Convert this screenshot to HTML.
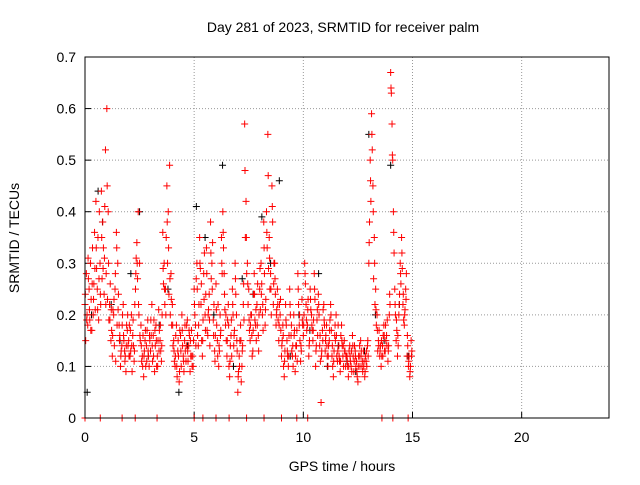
<!DOCTYPE html>
<html><head><meta charset="utf-8"><style>
body{margin:0;background:#fff;}
svg text{font-family:"Liberation Sans",sans-serif;font-size:14px;fill:#000;}
</style></head><body>
<svg id="chart" width="640" height="480">
<text x="343" y="32" text-anchor="middle">Day 281 of 2023, SRMTID for receiver palm</text>
<text x="342" y="471" text-anchor="middle">GPS time / hours</text>
<text transform="translate(19,238) rotate(-90)" text-anchor="middle">SRMTID / TECUs</text>
<g id="grid"></g><g id="ticks"></g><g id="marks"></g>
<rect x="85" y="57" width="524" height="361" fill="none" stroke="#000" stroke-width="1"/>
</svg>
<script>
const xTicks=[0,5,10,15,20];
const yTicks=[0,0.1,0.2,0.3,0.4,0.5,0.6,0.7];
const yTickLabels=["0","0.1","0.2","0.3","0.4","0.5","0.6","0.7"];
const redRows=[
[.22,.28,.18,.25,.30,.17,.20,.36,.42,.25,.19,.30,.44,.38,.24,.52],
[.60,.40,.22,.15,.12,.20,.25,.36,.30,.18,.10,.14,.22,.13,.09,.17],
[.15,.12,.20,.16,.11,.25,.34,.40,.30,.18,.12,.08,.15,.14,.19,.10],
[.13,.22,.16,.09,.18,.12,.21,.15,.11,.36,.30,.25,.45,.40,.49,.28],
[.22,.15,.10,.18,.13,.07,.16,.20,.12,.15,.11,.19,.14,.09,.17,.12],
[.25,.18,.30,.14,.35,.22,.12,.28,.20,.33,.16,.24,.38,.30,.19,.13],
[.26,.15,.10,.20,.35,.40,.28,.18,.12,.22,.08,.16,.25,.14,.30,.20],
[.05,.12,.18,.10,.22,.57,.42,.30,.25,.15,.20,.13,.28,.18,.22,.16],
[.25,.30,.20,.38,.18,.40,.55,.35,.28,.45,.22,.30,.18,.25,.15,.20],
[.12,.18,.08,.22,.15,.10,.25,.16,.12,.20,.09,.14,.28,.18,.11,.23],
[.16,.30,.22,.18,.12,.25,.20,.15,.28,.10,.19,.24,.14,.03,.17,.22],
[.13,.18,.10,.15,.22,.12,.08,.16,.20,.11,.14,.09,.18,.12,.15,.10],
[.12,.08,.14,.10,.16,.09,.13,.11,.07,.12,.15,.10,.13,.08,.11,.14],
[.30,.50,.59,.45,.35,.25,.20,.15,.12,.10,.14,.18,.13,.16,.11,.20],
[.67,.57,.40,.25,.15,.12,.20,.30,.35,.22,.18,.25,.12,.10,.08,.15]];
const redRows2=[
[.15,.20,.27,.19,.23,.33,.26,.21,.29,.35,.40,.22,.27,.33,.41,.28],
[.23,.19,.26,.17,.21,.14,.11,.18,.24,.16,.13,.20,.15,.12,.18,.14],
[.18,.13,.09,.14,.22,.31,.27,.20,.15,.11,.16,.13,.10,.17,.12,.15],
[.16,.11,.19,.14,.10,.15,.17,.13,.20,.26,.22,.35,.30,.24,.20,.18],
[.14,.11,.16,.08,.12,.17,.10,.14,.09,.13,.18,.11,.16,.12,.10,.15],
[.20,.27,.16,.22,.29,.15,.19,.32,.24,.17,.21,.14,.27,.34,.22,.16],
[.18,.22,.13,.17,.28,.33,.21,.15,.19,.10,.14,.12,.20,.17,.24,.13],
[.09,.15,.07,.14,.19,.35,.28,.22,.17,.20,.12,.24,.19,.15,.26,.20],
[.21,.26,.17,.28,.23,.33,.29,.25,.20,.38,.30,.24,.21,.19,.22,.17],
[.15,.10,.13,.18,.12,.16,.20,.13,.10,.17,.14,.11,.22,.15,.13,.18],
[.20,.26,.17,.23,.15,.21,.17,.19,.23,.14,.16,.20,.11,.13,.21,.18],
[.16,.12,.14,.19,.17,.10,.13,.15,.12,.18,.11,.16,.14,.10,.13,.12],
[.10,.13,.11,.09,.12,.14,.10,.08,.12,.10,.13,.09,.11,.12,.10,.12],
[.38,.42,.52,.27,.22,.18,.13,.17,.14,.12,.16,.13,.15,.19,.14,.22],
[.63,.50,.32,.20,.17,.14,.24,.26,.29,.19,.21,.28,.14,.12,.10,.13]];
const redRows3=[
[.24,.19,.31,.21,.17,.26,.23,.29,.33,.21,.27,.24,.35,.29,.31,.22],
[.45,.30,.19,.21,.16,.23,.28,.33,.21,.15,.12,.18,.16,.11,.14,.20],
[.12,.17,.14,.19,.13,.28,.30,.22,.16,.14,.10,.12,.17,.11,.13,.16],
[.19,.14,.12,.17,.15,.10,.13,.18,.14,.29,.25,.20,.38,.33,.27,.23],
[.18,.13,.12,.10,.15,.09,.13,.17,.11,.18,.14,.13,.17,.15,.12,.10],
[.22,.14,.25,.18,.30,.26,.15,.23,.17,.28,.20,.19,.32,.25,.16,.11],
[.21,.12,.14,.16,.30,.36,.24,.20,.15,.18,.11,.19,.22,.16,.27,.15],
[.08,.10,.15,.13,.26,.48,.35,.26,.19,.18,.16,.17,.24,.21,.18,.13],
[.29,.24,.22,.33,.21,.36,.47,.31,.25,.41,.26,.27,.20,.22,.18,.23],
[.14,.16,.11,.19,.13,.12,.22,.18,.14,.16,.12,.17,.25,.20,.14,.19],
[.18,.28,.19,.21,.14,.23,.18,.17,.25,.13,.21,.22,.16,.12,.15,.19],
[.15,.14,.12,.17,.20,.14,.11,.18,.16,.13,.12,.11,.15,.14,.13,.12],
[.11,.10,.12,.13,.14,.11,.12,.09,.10,.14,.12,.11,.10,.09,.13,.15],
[.34,.46,.55,.40,.30,.21,.17,.14,.13,.15,.12,.16,.18,.14,.13,.24],
[.64,.51,.36,.22,.19,.16,.22,.28,.32,.24,.20,.23,.16,.11,.09,.12]];
const zeroT=[0,0.7,1.7,2.3,3.3,5.0,5.4,6.0,6.6,7.4,8.2,9.0,9.7,10.2,13.6,14.1,14.8];
const blackT=[0.1,0.3,0.6,0.8,1.2,1.6,2.1,2.5,2.9,3.4,3.8,4.3,4.7,5.1,5.5,5.9,6.3,6.8,7.2,7.7,8.1,8.5,8.9,9.4,9.8,10.3,10.7,11.1,11.6,12.0,12.4,12.8,13.0,13.3,13.7,14.0,14.4,14.8];
const blackV=[0.05,0.20,0.44,0.38,0.22,0.15,0.28,0.40,0.12,0.18,0.25,0.05,0.14,0.41,0.35,0.20,0.49,0.10,0.27,0.24,0.39,0.30,0.46,0.12,0.20,0.17,0.28,0.10,0.14,0.11,0.09,0.13,0.55,0.20,0.15,0.49,0.22,0.12];
const X=t=>85+t*(524/24), Y=v=>418-v*(361/0.7);
const NS="http://www.w3.org/2000/svg";
const grid=document.getElementById('grid'),ticks=document.getElementById('ticks'),marks=document.getElementById('marks');
function mk(tag,at,parent){const e=document.createElementNS(NS,tag);for(const k in at)e.setAttribute(k,at[k]);parent.appendChild(e);return e;}
xTicks.forEach(t=>{const x=X(t);
 const g=mk('line',{x1:x,x2:x,y1:57,y2:418,stroke:'#999','stroke-dasharray':'1,2'},grid);
 
 
 mk('line',{x1:x,x2:x,y1:418,y2:412,stroke:'#000'},ticks);
 const l=mk('text',{x:x,y:442,'text-anchor':'middle'},ticks);l.textContent=t;
 
 });
yTicks.forEach((v,i)=>{const y=Y(v);
 const g=mk('line',{x1:85,x2:609,y1:y,y2:y,stroke:'#999','stroke-dasharray':'1,2'},grid);
 
 
 mk('line',{x1:85,x2:91,y1:y,y2:y,stroke:'#000'},ticks);
 const l=mk('text',{x:76,y:y+5,'text-anchor':'end'},ticks);l.textContent=yTickLabels[i];
 
 });
function plus(t,v,c){const x=X(t),y=Y(v);
 const p=mk('path',{d:`M${x-3.5},${y}h7M${x},${y-3.5}v7`,stroke:c,'stroke-width':1,fill:'none'},marks);
 
 }
blackT.forEach((t,i)=>plus(t,blackV[i],'#000'));
redRows.forEach((row,h)=>row.forEach((v,i)=>plus(h+i/16,v,'#f00')));
redRows2.forEach((row,h)=>row.forEach((v,i)=>plus(h+(i+0.5)/16,v,'#f00')));
redRows3.forEach((row,h)=>row.forEach((v,i)=>plus(h+(i+0.25)/16,v,'#f00')));
zeroT.forEach(t=>plus(t,0,'#f00'));
</script>
</body></html>
